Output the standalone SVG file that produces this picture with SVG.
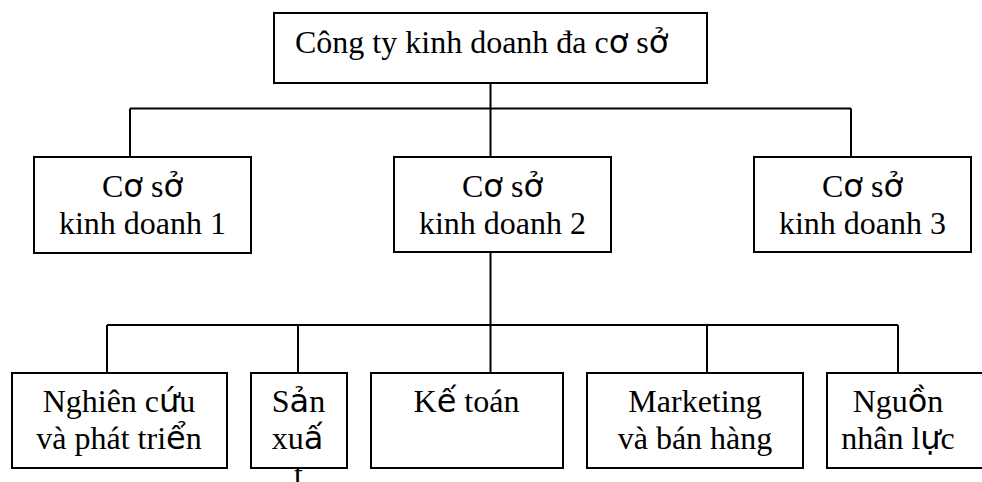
<svg xmlns="http://www.w3.org/2000/svg" width="982" height="482" viewBox="0 0 982 482">
<style>
.box{fill:#fff;stroke:#000;stroke-width:2}
.con{fill:none;stroke:#000;stroke-width:2}
text{font-family:"Liberation Serif","Times New Roman","DejaVu Sans",serif;font-size:32px;fill:#000}
.c{text-anchor:middle}
.f{font-family:"DejaVu Sans",sans-serif}
</style>
<rect width="982" height="482" fill="#fff"/>
<g id="connectors">
<path class="con" d="M490.5 83V108.5M130 108.5H851M130 108.5V157M490.5 108.5V157M851 108.5V157"/>
<path class="con" d="M490.5 252V325M107 325H898M107 325V373M298 325V373M490.5 325V373M707 325V373M898 325V373"/>
</g>
<g id="root">
<rect class="box" x="274" y="13" width="433" height="70"/>
<text x="295" y="53">Công ty kinh doanh đa c<tspan class="f">ơ</tspan> s<tspan class="f">ở</tspan></text>
</g>
<g id="cs1">
<rect class="box" x="34" y="157" width="217" height="96"/>
<text class="c" x="142.5" y="197">C<tspan class="f">ơ</tspan> s<tspan class="f">ở</tspan></text>
<text class="c" x="142.5" y="233.5">kinh doanh 1</text>
</g>
<g id="cs2">
<rect class="box" x="394" y="157" width="217" height="95"/>
<text class="c" x="502.5" y="197">C<tspan class="f">ơ</tspan> s<tspan class="f">ở</tspan></text>
<text class="c" x="502.5" y="233.5">kinh doanh 2</text>
</g>
<g id="cs3">
<rect class="box" x="754" y="157" width="217" height="95"/>
<text class="c" x="862.5" y="197">C<tspan class="f">ơ</tspan> s<tspan class="f">ở</tspan></text>
<text class="c" x="862.5" y="233.5">kinh doanh 3</text>
</g>
<g id="nghiencuu">
<rect class="box" x="12" y="373" width="215" height="95"/>
<text class="c" x="119" y="412">Nghiên c<tspan class="f">ứ</tspan>u</text>
<text class="c" x="119" y="448.5">và phát tri<tspan class="f">ể</tspan>n</text>
</g>
<g id="sanxuat">
<rect class="box" x="251" y="373" width="96" height="95"/>
<text class="c" x="298.5" y="412">S<tspan class="f">ả</tspan>n</text>
<text class="c" x="297.5" y="448.5">xu<tspan class="f">ấ</tspan></text>
<text class="c" x="298.5" y="485">t</text>
</g>
<g id="ketoan">
<rect class="box" x="371" y="373" width="192" height="95"/>
<text class="c" x="466.5" y="412">K<tspan class="f">ế</tspan> toán</text>
</g>
<g id="marketing">
<rect class="box" x="587" y="373" width="216" height="95"/>
<text class="c" x="695" y="412">Marketing</text>
<text class="c" x="695" y="448.5">và bán hàng</text>
</g>
<g id="nhanluc">
<rect class="box" x="827" y="373" width="170" height="95"/>
<text class="c" x="898" y="412">Ngu<tspan class="f">ồ</tspan>n</text>
<text class="c" x="898" y="448.5">nhân l<tspan class="f">ự</tspan>c</text>
</g>
</svg>
